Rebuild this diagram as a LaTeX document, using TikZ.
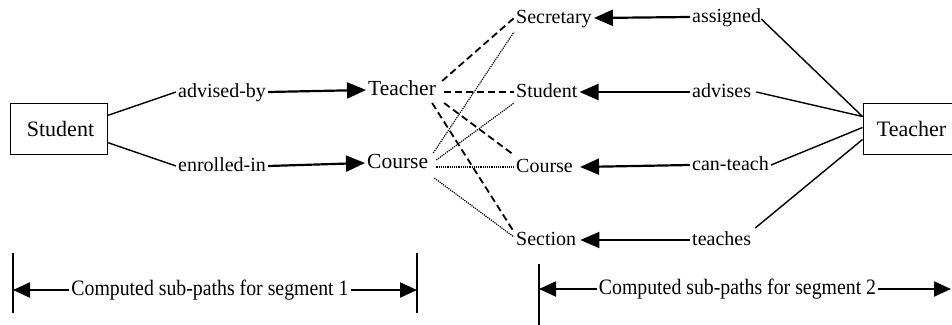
\documentclass[tikz,border=0pt]{standalone}
\usepackage{fontspec}
\usepackage{graphicx}
\setmainfont{Liberation Serif}
\usetikzlibrary{arrows.meta,calc}

\tikzset{
  lbl/.style={font=\fontsize{20}{24}\selectfont, inner xsep=2pt, inner ysep=0pt,
    text height=14pt, text depth=4pt, anchor=west},
  mid/.style={lbl, font=\fontsize{21.5}{26}\selectfont, text height=15pt, text depth=4.5pt},
  box/.style={draw, line width=1pt, font=\fontsize{22}{26}\selectfont,
    minimum width=97pt, minimum height=51pt, inner sep=0pt},
  conn/.style={line width=1.4pt},
  arr/.style={line width=2.2pt, -{Triangle[length=19pt,width=16pt]}},
  arrb/.style={line width=2.2pt, -{Triangle[length=17pt,width=15pt]}},
  dsh/.style={line width=1.8pt, dash pattern=on 7pt off 4pt},
  dtt/.style={line width=1.2pt, dash pattern=on 1.2pt off 1pt},
  bar/.style={line width=1.5pt},
  seg/.style={font=\fontsize{22}{26}\selectfont, inner xsep=2pt, inner ysep=0pt}
}

\begin{document}
\begin{tikzpicture}[x=1pt, y=-1pt]
\clip (0,0) rectangle (952,324);

% entity boxes
\node[box] (sbox) at (58.5,128.5) {\hspace*{4pt}Student};
\node[box] (tbox) at (911.5,128.5) {Teacher};

% first segment: relation labels and targets
\node[lbl] (advby) at (176,92) {advised-by};
\node[lbl] (enrin) at (176,166) {enrolled-in};
\node[mid] (tmid) at (366,90) {Teacher};
\node[mid] (cmid) at (365,163) {Course};

% second segment: targets and relation labels
\node[lbl] (secr) at (514,18) {Secretary};
\node[lbl] (stur) at (514,92) {Student};
\node[lbl] (crsr) at (514,167) {Course};
\node[lbl] (sect) at (514,240) {Section};
\node[lbl] (asg) at (690,17) {assigned};
\node[lbl] (adv) at (690,92) {advises};
\node[lbl] (cant) at (690,165) {can-teach};
\node[lbl] (tch) at (690,240) {teaches};

% Student box to its relations
\draw[conn] ([yshift=-13pt]sbox.north east) -- (advby.west);
\draw[conn] ([yshift=12pt]sbox.south east) -- (enrin.west);
\draw[arr] (advby.east) -- (tmid.west);
\draw[arr] (enrin.east) -- (cmid.west);

% Teacher box to its relations
\draw[conn] ($(asg.east)+(-2,2)$) -- ([yshift=-14pt]tbox.north west);
\draw[conn] ($(adv.east)+(3,0)$) -- ([yshift=-14pt]tbox.north west);
\draw[conn] (cant.east) -- ([yshift=-25pt]tbox.north west);
\draw[conn] ($(tch.east)+(2,-12)$) -- ([yshift=-37pt]tbox.north west);
\draw[arr] (asg.west) -- (secr.east);
\draw[arr] (adv.west) -- (stur.east);
\draw[arr] (cant.west) -- ([xshift=5pt]crsr.east);
\draw[arr] (tch.west) -- ([xshift=2pt]sect.east);

% joins from Teacher (dashed)
\draw[dsh] ($(tmid.east)+(4,-9)$) -- (secr.west);
\draw[dsh] ($(tmid.east)+(6,2)$) -- (stur.west);
\draw[dsh] ($(tmid.east)+(6,13)$) -- ($(crsr.west)+(0,-12)$);
\draw[dsh] ($(tmid.east)+(-6,13)$) -- ($(sect.west)+(0,-8)$);

% joins from Course (dotted)
\draw[dtt] ($(cmid.east)+(3,-10)$) -- ($(secr.west)+(0,14)$);
\draw[dtt] ($(cmid.east)+(6,-3)$) -- ($(stur.west)+(0,11)$);
\draw[dtt] ($(cmid.east)+(6,4)$) -- (crsr.west);
\draw[dtt] ($(cmid.east)+(4,15)$) -- ($(sect.west)+(0,-3)$);

% segment extents
\coordinate (s1a) at (13,253);
\coordinate (s1b) at (13,313);
\coordinate (s1c) at (417,253);
\coordinate (s1d) at (417,313);
\coordinate (s1l) at (13,290);
\coordinate (s1r) at (417,290);
\draw[bar] (s1a) -- (s1b);
\draw[bar] (s1c) -- (s1d);
\node[seg] (seg1) at (210,290) {\scalebox{0.9}[1]{Computed sub-paths for segment 1}};
\draw[arrb] (seg1.west) -- (s1l);
\draw[arrb] (seg1.east) -- (s1r);

\coordinate (s2a) at (539,264);
\coordinate (s2b) at (539,330);
\coordinate (s2l) at (539,289);
\coordinate (s2r) at (951,289);
\draw[bar] (s2a) -- (s2b);
\node[seg] (seg2) at (737.5,289) {\scalebox{0.9}[1]{Computed sub-paths for segment 2}};
\draw[arrb] (seg2.west) -- (s2l);
\draw[arrb] (seg2.east) -- (s2r);
\end{tikzpicture}
\end{document}
